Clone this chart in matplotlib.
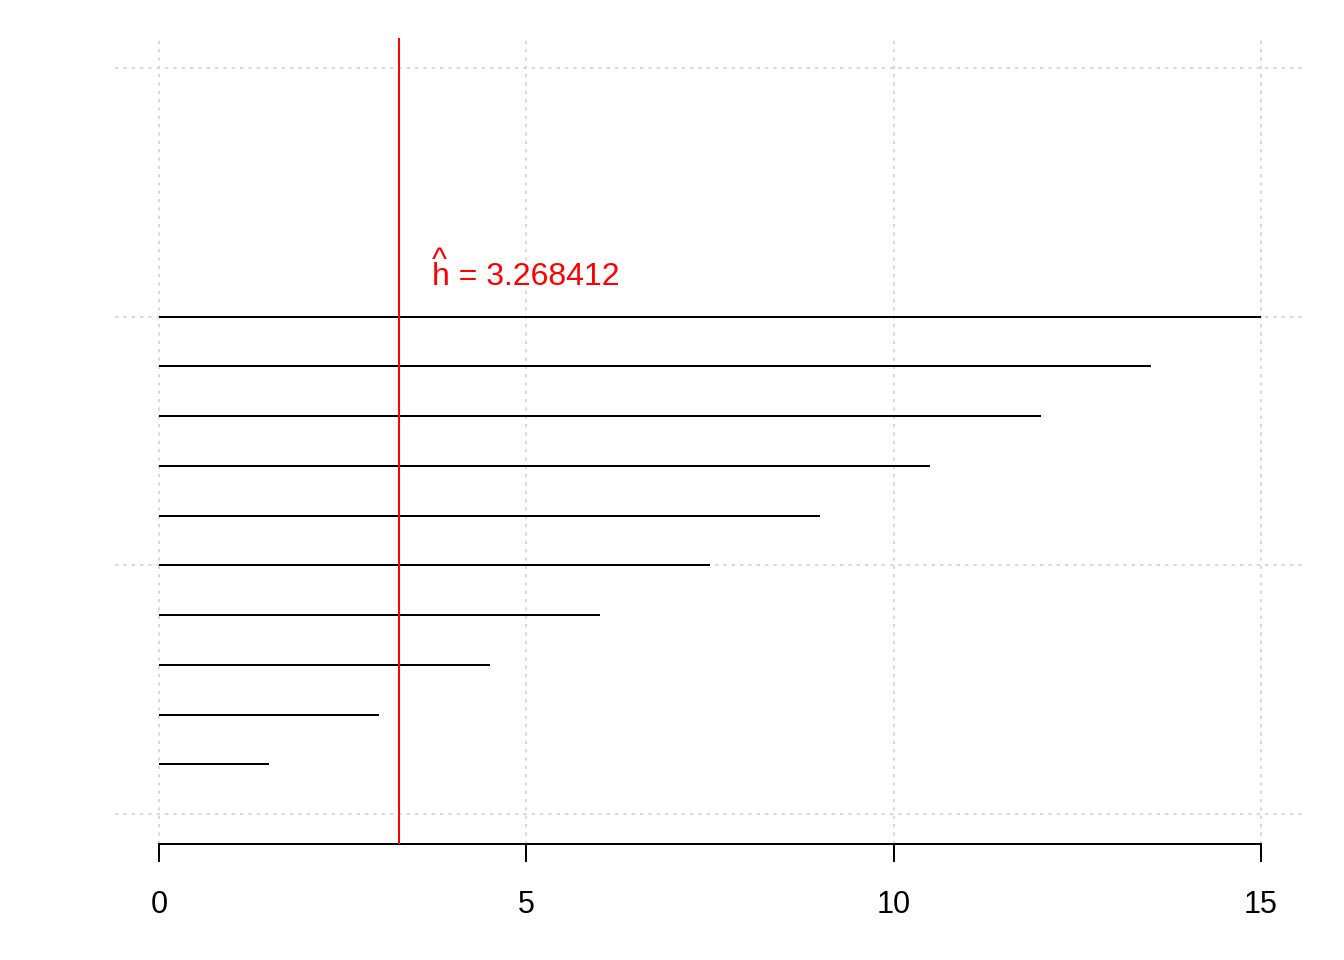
import numpy as np
import matplotlib
matplotlib.use("Agg")
import matplotlib.pyplot as plt

plt.rcParams['font.family'] = ['Liberation Sans', 'DejaVu Sans']

# segment data
seg_y = [1, 2, 3, 4, 5, 6, 7, 8, 9, 10]
seg_end = [1.5, 3.0, 4.5, 6.0, 7.5, 9.0, 10.5, 12.0, 13.5, 15.0]
h_hat = 3.268412
x_ticks = [0, 5, 10, 15]
y_grid = [0, 5, 10, 15]

fig = plt.figure(figsize=(13.44, 9.6), dpi=100)
ax = fig.add_axes([115/1344, 1 - 844/960, (1305 - 115)/1344, (844 - 38)/960])

ax.set_xlim(-0.6, 15.6)
ax.set_ylim(-0.6, 15.6)

# grid (R style lightgray dotted)
for gx in x_ticks:
    ax.axvline(gx, color='#D3D3D3', lw=1.2, dashes=(2, 3), zorder=1)
for gy in y_grid:
    ax.axhline(gy, color='#D3D3D3', lw=1.2, dashes=(2, 3), zorder=1)

ax.hlines(seg_y, 0, seg_end, color='black', lw=1.44, zorder=2)
ax.axvline(h_hat, color='red', lw=1.44, zorder=3)

# label: h with a caret above it, one text object with two tight lines
tx = h_hat + 0.45
ax.text(tx, 10.63, '^\nh = 3.268412', color='red', fontsize=23,
        ha='left', va='baseline', linespacing=0.4, multialignment='left')

for s in ['top', 'right', 'left']:
    ax.spines[s].set_visible(False)
ax.spines['bottom'].set_bounds(0, 15)
ax.spines['bottom'].set_linewidth(1.44)
ax.set_xticks(x_ticks)
ax.set_xticklabels([str(t) for t in x_ticks])
ax.tick_params(axis='x', length=13, width=1.44, pad=20, labelsize=22)
ax.set_yticks([])

fig.savefig("out.png", dpi=100)
